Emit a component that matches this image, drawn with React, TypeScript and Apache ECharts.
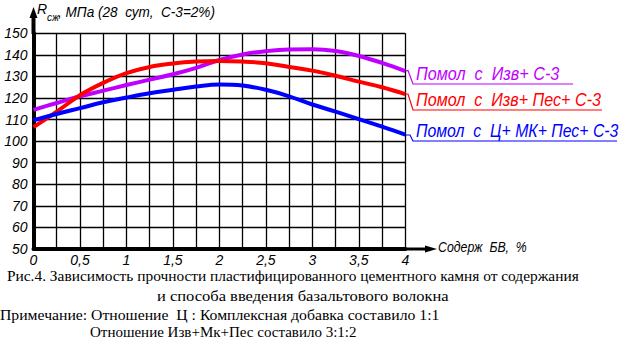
import React, { useEffect, useRef } from "react";
import * as echarts from "echarts";

const xValues = [0, 0.25, 0.5, 0.75, 1, 1.25, 1.5, 1.75, 2, 2.25, 2.5, 2.75, 3, 3.25, 3.5, 3.75, 4];
const purpleValues = [114.5, 117.7, 120.8, 123.4, 126, 128.5, 131, 134, 137.6, 140.2, 141.7, 142.5, 142.6, 141.8, 139.5, 136.3, 132.5];
const redValues = [106.5, 113.7, 121.3, 127, 131.5, 134.4, 136, 136.9, 137.2, 136.9, 136.1, 134.4, 132.7, 130.3, 127.6, 125, 121.8];
const blueValues = [109.7, 112.6, 115.3, 118, 120.2, 122.2, 123.8, 125.3, 126.3, 125.8, 123.8, 120.8, 117, 113.7, 110.2, 106.7, 103];

const seriesNames = ["Помол  с  Изв+ С-3", "Помол  с  Изв+ Пес+ С-3", "Помол  с  Ц+ МК+ Пес+ С-3"];
const seriesColors = ["#bf00ff", "#ff0000", "#0000ff"];

const yAxisTitleMain = "R";
const yAxisTitleSub = "сж";
const yAxisTitleRest = ", МПа (28  сут,  С-3=2%)";
const xAxisTitle = "Содерж  БВ,  %";

const captionLines = [
  "Рис.4. Зависимость прочности пластифицированного цементного камня от содержания",
  "и способа введения базальтового волокна",
  "Примечание: Отношение  Ц : Комплексная добавка составило 1:1",
  "Отношение Изв+Мк+Пес составило 3:1:2",
];

const pairs = (vals: number[]) => xValues.map((x, i) => [x, vals[i]]);

export default function App() {
  const ref = useRef<HTMLDivElement>(null);
  useEffect(() => {
    document.body.style.margin = "0";
    if (!ref.current) return;
    const chart = echarts.init(ref.current, null, { renderer: "svg" });
    const italic = { fontFamily: "Liberation Sans", fontStyle: "italic" as const };
    const serif = { fontFamily: "Liberation Serif", fontSize: 15, fill: "#000" };
    const allValues = [purpleValues, redValues, blueValues];
    const leaderEnds = [
      [[405, 71], [408, 70.5], [413, 84], [573, 84]],
      [[405, 94], [408, 94], [413, 110], [602, 110]],
      [[405, 135], [410, 135], [413, 141], [617, 141]],
    ];
    const labelY = [74.5, 100.5, 131.5];
    const labelScale = [0.9, 0.895, 0.88];
    const captionPos = [
      { x: 7, y: 276, s: 1.027 },
      { x: 157, y: 295.5, s: 1.1 },
      { x: 0, y: 315, s: 1.048 },
      { x: 90, y: 331.5, s: 1.0 },
    ];
    chart.setOption({
      animation: false,
      backgroundColor: "#fff",
      grid: { left: 33.5, right: 225.7, top: 33.3, bottom: 90, containLabel: false },
      xAxis: {
        type: "value",
        min: 0,
        max: 4,
        interval: 0.25,
        axisLine: { show: true, onZero: false, lineStyle: { color: "#000", width: 4 } },
        axisTick: { show: false },
        splitLine: { show: true, lineStyle: { color: "#000", width: 1.3 } },
        axisLabel: {
          color: "#000",
          fontSize: 14,
          ...italic,
          margin: 4,
          formatter: (v: number) =>
            Math.abs(v * 2 - Math.round(v * 2)) < 1e-6 ? String(v).replace(".", ",") : "",
        },
      },
      yAxis: {
        type: "value",
        min: 50,
        max: 150,
        interval: 10,
        axisLine: { show: true, onZero: false, lineStyle: { color: "#000", width: 4 } },
        axisTick: { show: false },
        splitLine: { show: true, lineStyle: { color: "#000", width: 1.3 } },
        axisLabel: { color: "#000", fontSize: 14, ...italic, margin: 6 },
      },
      series: [2, 0, 1].map((i) => ({
        type: "line",
        name: seriesNames[i],
        data: pairs(allValues[i]),
        smooth: 0.4,
        showSymbol: false,
        symbol: "none",
        lineStyle: { color: seriesColors[i], width: 4 },
        z: 3 + i,
      })),
      graphic: [
        { type: "line", shape: { x1: 33.5, y1: 34, x2: 33.5, y2: 15 }, style: { stroke: "#000", lineWidth: 4 } },
        { type: "polygon", shape: { points: [[33.5, 7], [29.5, 18], [37.5, 18]] }, style: { fill: "#000" } },
        { type: "line", shape: { x1: 405, y1: 249, x2: 428, y2: 249 }, style: { stroke: "#000", lineWidth: 3 } },
        { type: "polygon", shape: { points: [[425, 245.5], [437, 249], [425, 252.5]] }, style: { fill: "#000" } },
        {
          type: "text",
          x: 438,
          y: 247,
          scaleX: 0.88,
          style: { text: xAxisTitle, ...italic, fontSize: 14, fill: "#000", verticalAlign: "middle", align: "left" },
        },
        {
          type: "text",
          x: 37,
          y: 2,
          style: { text: yAxisTitleMain, ...italic, fontSize: 14, fill: "#000", verticalAlign: "top" },
        },
        {
          type: "text",
          x: 47,
          y: 12,
          style: { text: yAxisTitleSub, ...italic, fontSize: 10, fill: "#000", verticalAlign: "top" },
        },
        {
          type: "text",
          x: 58,
          y: 5,
          scaleX: 0.97,
          style: { text: yAxisTitleRest, ...italic, fontSize: 14, fill: "#000", verticalAlign: "top" },
        },
        ...leaderEnds.map((pts, i) => ({
          type: "polyline",
          shape: { points: pts },
          style: { stroke: seriesColors[i], lineWidth: 1.2, fill: null },
        })),
        ...seriesNames.map((name, i) => ({
          type: "text",
          x: 416,
          y: labelY[i],
          scaleX: labelScale[i],
          style: { text: name, ...italic, fontSize: 18, fill: seriesColors[i], verticalAlign: "middle", align: "left" },
        })),
        ...captionLines.map((line, i) => ({
          type: "text",
          x: captionPos[i].x,
          y: captionPos[i].y,
          scaleX: captionPos[i].s,
          style: { text: line, ...serif, verticalAlign: "middle" },
        })),
      ],
    });
    return () => chart.dispose();
  }, []);
  return <div ref={ref} style={{ width: 631, height: 339 }} />;
}
